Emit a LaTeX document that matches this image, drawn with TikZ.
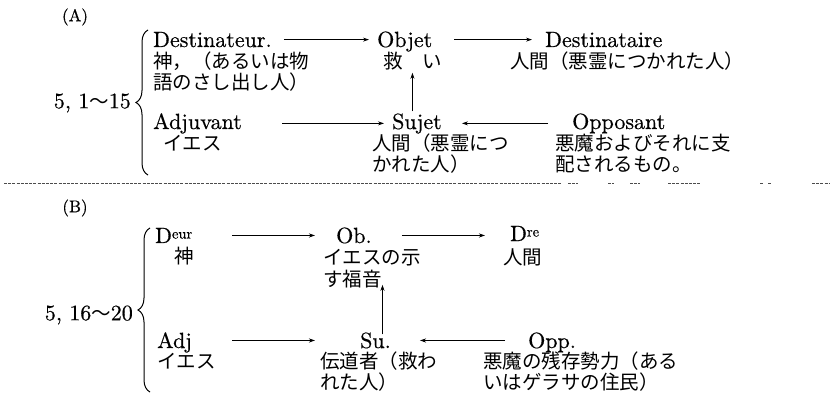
\documentclass[tikz,border=0pt]{standalone}
\usepackage{fontspec}
\newfontfamily\jpfont{Noto Sans CJK JP}
\newfontfamily\latfont[FakeBold=0.5]{lmroman10-regular.otf}
\usetikzlibrary{decorations.pathreplacing,arrows.meta}
\newcommand\ltsize{\latfont\fontsize{22}{24}\selectfont}
\newcommand\jtsize{\jpfont\fontsize{19.5}{21}\selectfont}
\newcommand\supx[1]{\raisebox{4.5pt}{\fontsize{14.5}{14.5}\selectfont #1}}
\begin{document}
\begin{tikzpicture}[x=1pt,y=-1pt,
  lat/.style={font=\ltsize, inner sep=0pt, anchor=base west},
  jp/.style={font=\jtsize, inner sep=0pt, anchor=base west},
  arr/.style={-{Stealth[length=6pt,width=4pt]}, line width=0.75pt},
  brc/.style={decorate, decoration={brace,amplitude=12pt}, line width=1pt},
  sec/.style={font=\latfont\fontsize{17}{17}\selectfont, inner sep=0pt},
  sep/.style={line width=0.6pt, black!70, dash pattern=on 3pt off 1.2pt}]
\useasboundingbox (0,0) rectangle (830,398);

% ---------------- (A) ----------------
\node[sec] (secA) at (75,17) {(A)};
\draw[brc] (148,175) -- (148,30);
\node[lat, anchor=east] (rngA) at (131,103) {5, 1{\jtsize ～}15};

\node[lat] (dest) at (153,47) {Destinateur.};
\node[jp] (destj1) at (153,69) {神，（あるいは物};
\node[jp] (destj2) at (153,90) {語のさし出し人）};

\node[lat] (obj) at (377,47) {Objet};
\node[jp] (objj) at (383,69) {救　い};

\node[lat] (dtre) at (545,47) {Destinataire};
\node[jp] (dtrej) at (510,69) {人間（悪霊につかれた人）};

\node[lat] (adj) at (153,129) {Adjuvant};
\node[jp] (adjj) at (163,151) {イエス};

\node[lat] (suj) at (392,129) {Sujet};
\node[jp] (sujj1) at (372,151) {人間（悪霊につ};
\node[jp] (sujj2) at (372,172) {かれた人）};

\node[lat] (opp) at (572,129) {Opposant};
\node[jp] (oppj1) at (555,151) {悪魔およびそれに支};
\node[jp] (oppj2) at (555,172) {配されるもの。};

\draw[arr] ([xshift=12pt]dest.east) -- ([xshift=-8pt]dest.east -| obj.west);
\draw[arr] ([xshift=22pt]obj.east |- dest.east) -- ([xshift=-13pt]dest.east -| dtre.west);
\draw[arr] ([xshift=40pt]adj.east) -- ([xshift=-8pt]adj.east -| suj.west);
\draw[arr] ([xshift=-24pt]opp.west |- adj.east) -- ([xshift=20pt]adj.east -| suj.east);
\draw[arr] ([yshift=2pt]objj.south |- suj.north) -- ([yshift=-2pt]objj.south);

% separator
\draw[sep] (4,183) -- (562,183);
\draw[sep] (568,183) -- (578,183) (608,183) -- (614,183) (630,183) -- (640,183)
           (668,183) -- (700,183) (760,183) -- (763,183) (768,183) -- (772,183)
           (812,183) -- (830,183);

% ---------------- (B) ----------------
\node[sec] (secB) at (75,208) {(B)};
\draw[brc] (150,392) -- (150,228);
\node[lat, anchor=east] (rngB) at (133,315) {5, 16{\jtsize ～}20};

\node[lat] (deur) at (155,243) {D\supx{eur}};
\node[jp] (deurj) at (174,263) {神};

\node[lat] (ob) at (336,243) {Ob.};
\node[jp] (obj1) at (323,265) {イエスの示};
\node[jp] (obj2) at (323,286) {す福音};

\node[lat] (dreb) at (510,241) {D\supx{re}};
\node[jp] (drej) at (503,265) {人間};

\node[lat] (adjb) at (157,348) {Adj};
\node[jp] (adjbj) at (157,368) {イエス};

\node[lat] (su) at (360,348) {Su.};
\node[jp] (suj1) at (320,368) {伝道者（救わ};
\node[jp] (suj2) at (320,389) {れた人）};

\node[lat] (oppb) at (528,348) {Opp.};
\node[jp] (oppbj1) at (483,368) {悪魔の残存勢力（ある};
\node[jp] (oppbj2) at (483,389) {いはゲラサの住民）};

\draw[arr] ([xshift=40pt]deur.east |- ob.east) -- ([xshift=-21pt]ob.west);
\draw[arr] ([xshift=30pt]ob.east) -- ([xshift=-25pt]ob.east -| dreb.west);
\draw[arr] ([xshift=40pt]adjb.east |- su.west) -- ([xshift=-45pt]su.west);
\draw[arr] ([xshift=-23pt]oppb.west |- su.east) -- ([xshift=29pt]su.east);
\draw[arr] ([xshift=7pt,yshift=-2pt]su.north) -- ([xshift=7pt,yshift=3pt]su.north |- obj2.south);
\end{tikzpicture}
\end{document}
